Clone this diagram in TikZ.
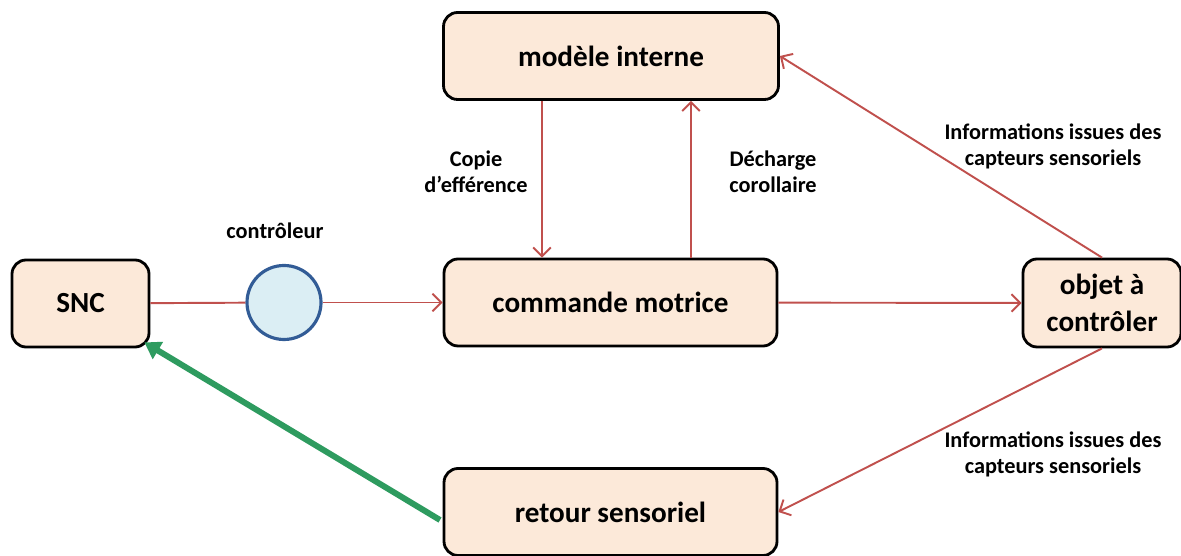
\documentclass[tikz,border=0pt]{standalone}
\usepackage{fontspec}
\setmainfont{Carlito}
\usetikzlibrary{arrows.meta}
\definecolor{boxfill}{RGB}{252,233,217}
\definecolor{ctrlfill}{RGB}{219,238,244}
\definecolor{ctrldraw}{RGB}{50,92,150}
\definecolor{flecherouge}{RGB}{192,80,77}
\definecolor{retourvert}{RGB}{46,155,95}
\begin{document}
\begin{tikzpicture}[
    every node/.style={font=\bfseries},
    bloc/.style={draw=black, line width=1.6pt, rounded corners=8pt, fill=boxfill,
        minimum height=1.74cm, inner sep=0pt, align=center,
        font=\bfseries\fontsize{16.6}{21}\selectfont},
    fleche/.style={draw=flecherouge, line width=1.1pt, -{Straight Barb[length=5pt,width=10pt]}},
    legende/.style={align=center, font=\bfseries\fontsize{12.7}{14.8}\selectfont}]
    \useasboundingbox (0,0) rectangle (23.62,11.12);

    % Блоки
    \node[bloc, minimum width=2.74cm] (snc) at (1.61,5.05) {SNC};
    \node[circle, draw=ctrldraw, fill=ctrlfill, line width=1.8pt, minimum size=1.48cm] (ctrl) at (5.68,5.07) {};
    \node[bloc, minimum width=6.66cm] (cmd) at (12.21,5.07) {commande motrice};
    \node[bloc, minimum width=6.70cm] (modele) at (12.22,10.0) {modèle interne};
    \node[bloc, minimum width=3.16cm, minimum height=1.76cm] (objet) at (22.04,5.06) {objet à\\contrôler};
    \node[bloc, minimum width=6.66cm] (retour) at (12.21,0.88) {retour sensoriel};

    % Стрелки
    \draw[draw=flecherouge, line width=1.1pt] (snc) -- (ctrl);
    \draw[fleche] (ctrl) -- (cmd);
    \draw[fleche] (cmd) -- (objet);
    \coordinate (copie) at (10.84,7.5);
    \coordinate (decharge) at (13.82,7.5);
    \draw[fleche] (copie |- modele.south) -- (copie |- cmd.north);
    \draw[fleche] (decharge |- cmd.north) -- (decharge |- modele.south);
    \draw[fleche] (objet.north) -- (modele.east);
    \draw[fleche] (objet.south) -- (retour.east);

    % Обратная связь
    \coordinate (depart) at (8.8,0.72);
    \draw[retourvert, line width=3.4pt, -{Triangle[length=9pt,width=11pt]}] (depart) -- ([shift={(-0.12,0.12)}]snc.south east);

    % Подписи
    \node[legende] (lctrl) at (5.50,6.50) {contrôleur};
    \node[legende] (lcopie) at (9.52,7.68) {Copie\\d’efférence};
    \node[legende] (ldecharge) at (15.46,7.68) {Décharge\\corollaire};
    \node[legende] (linfo1) at (21.06,8.20) {Informations issues des\\capteurs sensoriels};
    \node[legende] (linfo2) at (21.06,2.04) {Informations issues des\\capteurs sensoriels};
\end{tikzpicture}
\end{document}
